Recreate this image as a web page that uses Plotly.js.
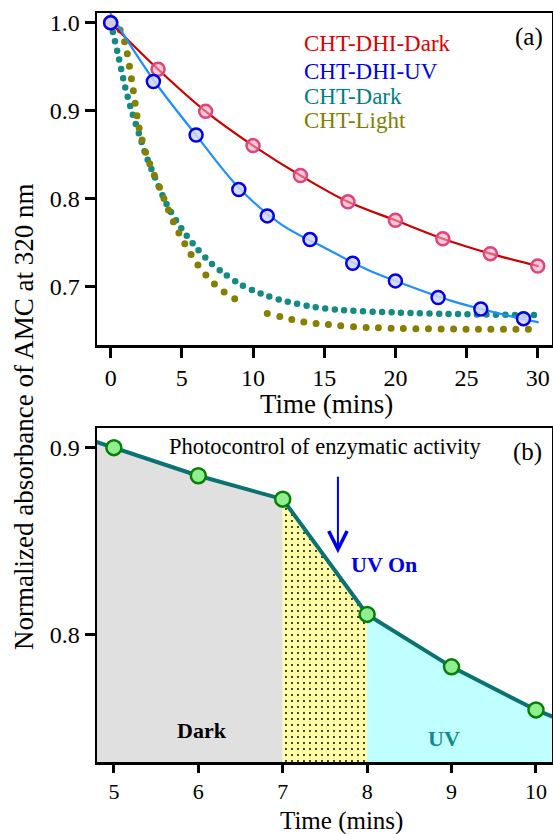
<!DOCTYPE html>
<html>
<head>
<meta charset="utf-8">
<script src="https://cdn.plot.ly/plotly-3.0.1.min.js"></script>
<style>
  html, body { margin: 0; padding: 0; background: #fff; }
  #chart { width: 553px; height: 834px; }
  .js-line { stroke-linecap: round; }
</style>
</head>
<body>
<div id="chart"></div>
<script>
// ---------- Panel (a) data ----------
const seriesNames = ['CHT-DHI-Dark', 'CHT-DHI-UV', 'CHT-Dark', 'CHT-Light'];

const dhiDarkX = [0, 3.33, 6.67, 10, 13.33, 16.67, 20, 23.33, 26.67, 30];
const dhiDarkY = [1.0, 0.947, 0.899, 0.860, 0.826, 0.796, 0.775, 0.754, 0.737, 0.723];

const dhiUvX = [0, 3, 6, 9, 11, 14, 17, 20, 23, 26, 29];
const dhiUvY = [1.0, 0.933, 0.872, 0.810, 0.780, 0.753, 0.726, 0.706, 0.687, 0.674, 0.663];

const dhiUvFitX = [0, 3, 6, 9, 12, 15, 18, 21, 24, 27, 30];
const dhiUvFitY = [1.01, 0.935, 0.872, 0.812, 0.770, 0.744, 0.719, 0.700, 0.683, 0.670, 0.659];

const chtDarkX = [0, 0.5, 1, 1.5, 2, 2.5, 3, 4, 5, 6, 7, 8, 9, 10, 11, 12, 14, 16, 20, 25, 30];
const chtDarkY = [1.0, 0.965, 0.928, 0.898, 0.873, 0.848, 0.828, 0.791, 0.765, 0.744, 0.727, 0.714, 0.703, 0.695, 0.689, 0.684, 0.677, 0.673, 0.670, 0.668, 0.667];

const chtLightX = [0, 0.5, 1, 1.5, 2, 2.5, 3, 3.5, 4, 4.5, 5, 5.5, 6, 7, 8, 9, 9.3, 10, 11, 12, 13, 14, 15, 16, 18, 20, 25, 30];
const chtLightY = [1.0, 0.996, 0.977, 0.932, 0.880, 0.850, 0.829, 0.810, 0.789, 0.770, 0.754, 0.740, 0.727, 0.707, 0.693, 0.683, 0.680, null, 0.669, 0.665, 0.661, 0.658, 0.657, 0.655, 0.653, 0.652, 0.651, 0.651];

const topXTicks = [0, 5, 10, 15, 20, 25, 30];
const topYTicks = [0.7, 0.8, 0.9, 1.0];
const topYTickText = ['0.7', '0.8', '0.9', '1.0'];

// ---------- Panel (b) data ----------
const photoX = [4, 5, 6, 7, 8, 9, 10, 11];
const photoY = [0.915, 0.900, 0.885, 0.8725, 0.811, 0.783, 0.760, 0.742];
const darkEnd = 7;
const uvStart = 8;

const botXTicks = [5, 6, 7, 8, 9, 10];
const botYTicks = [0.8, 0.9];
const botYTickText = ['0.8', '0.9'];

// ---------- helpers ----------
function segment(lo, hi) {
  const xs = [], ys = [];
  photoX.forEach((x, i) => { if (x >= lo && x <= hi) { xs.push(x); ys.push(photoY[i]); } });
  return { x: xs, y: ys };
}
const segDark = segment(-Infinity, darkEnd);
const segMid = segment(darkEnd, uvStart);
const segUv = segment(uvStart, Infinity);

const colors = { red: '#e00000', blue: '#0000e6', teal: '#008080', olive: '#808000' };

const traces = [
  // panel a
  { x: chtDarkX, y: chtDarkY, xaxis: 'x', yaxis: 'y', mode: 'lines', line: { color: '#138a82', width: 6.5, dash: '0px,9.5px', shape: 'spline', smoothing: 0.8 }, hoverinfo: 'skip' },
  { x: chtLightX, y: chtLightY, xaxis: 'x', yaxis: 'y', mode: 'lines', connectgaps: false, line: { color: '#858000', width: 7, dash: '0px,12.5px', shape: 'spline', smoothing: 0.8 }, hoverinfo: 'skip' },
  { x: dhiDarkX, y: dhiDarkY, xaxis: 'x', yaxis: 'y', mode: 'lines+markers', line: { color: '#cc0000', width: 2.2, shape: 'spline' },
    marker: { symbol: 'circle', size: 13, color: 'rgba(240,165,190,0.6)', line: { color: '#e0447c', width: 2.5 } } },
  { x: dhiUvFitX, y: dhiUvFitY, xaxis: 'x', yaxis: 'y', mode: 'lines', line: { color: '#1e8fff', width: 2.2, shape: 'spline' } },
  { x: dhiUvX, y: dhiUvY, xaxis: 'x', yaxis: 'y', mode: 'markers',
    marker: { symbol: 'circle', size: 13, color: 'rgba(210,214,245,0.85)', line: { color: '#0000e6', width: 2.5 } } },
  // panel b fills
  { x: segDark.x, y: segDark.y, xaxis: 'x2', yaxis: 'y2', mode: 'lines', fill: 'tozeroy', fillcolor: '#e0e0e0', line: { width: 0, color: 'rgba(0,0,0,0)' }, hoverinfo: 'skip' },
  { x: segMid.x, y: segMid.y, xaxis: 'x2', yaxis: 'y2', mode: 'lines', fill: 'tozeroy', fillcolor: '#ffffa8',
    fillpattern: { shape: '.', bgcolor: '#ffffa8', fgcolor: '#000000', size: 6, solidity: 0.08 },
    line: { width: 0, color: 'rgba(0,0,0,0)' }, hoverinfo: 'skip' },
  { x: segUv.x, y: segUv.y, xaxis: 'x2', yaxis: 'y2', mode: 'lines', fill: 'tozeroy', fillcolor: '#c0ffff', line: { width: 0, color: 'rgba(0,0,0,0)' }, hoverinfo: 'skip' },
  // panel b line + markers
  { x: photoX, y: photoY, xaxis: 'x2', yaxis: 'y2', mode: 'lines+markers', line: { color: '#0a7272', width: 4 },
    marker: { symbol: 'circle', size: 15, color: '#90ee90', line: { color: '#058005', width: 2.5 } } }
];

const axisCommon = {
  showline: true, linewidth: 2.5, linecolor: '#000', mirror: true,
  ticks: 'outside', ticklen: 10, tickwidth: 3, tickcolor: '#000',
  showgrid: false, zeroline: false,
  tickfont: { size: 24, color: '#000' }
};

const font = "'Liberation Serif', 'Times New Roman', serif";
const W = 553, H = 834, ML = 97, MR = 1, MT = 13, MB = 72;
const pw = W - ML - MR, ph = H - MT - MB;
const px = v => (v - ML) / pw;
const py = v => (H - MB - v) / ph;

const annotations = [
  { text: 'Normalized absorbance of AMC at 320 nm', xref: 'paper', yref: 'paper', x: px(24), y: py(417), textangle: -90, showarrow: false, xanchor: 'center', yanchor: 'middle', font: { size: 27 } },
  { text: 'Time (mins)', xref: 'paper', yref: 'paper', x: px(326.7), y: py(404), showarrow: false, xanchor: 'center', yanchor: 'middle', font: { size: 27 } },
  { text: 'Time (mins)', xref: 'paper', yref: 'paper', x: px(341), y: py(820.5), showarrow: false, xanchor: 'center', yanchor: 'middle', font: { size: 25 } },
  { text: seriesNames[0], xref: 'paper', yref: 'paper', x: px(302), y: py(43), showarrow: false, xanchor: 'left', yanchor: 'middle', font: { size: 23, color: colors.red } },
  { text: seriesNames[1], xref: 'paper', yref: 'paper', x: px(302), y: py(71), showarrow: false, xanchor: 'left', yanchor: 'middle', font: { size: 23, color: colors.blue } },
  { text: seriesNames[2], xref: 'paper', yref: 'paper', x: px(302), y: py(96), showarrow: false, xanchor: 'left', yanchor: 'middle', font: { size: 23, color: colors.teal } },
  { text: seriesNames[3], xref: 'paper', yref: 'paper', x: px(302), y: py(120), showarrow: false, xanchor: 'left', yanchor: 'middle', font: { size: 23, color: colors.olive } },
  { text: '(a)', xref: 'paper', yref: 'paper', x: px(529), y: py(37), showarrow: false, xanchor: 'center', yanchor: 'middle', font: { size: 25 } },
  { text: '(b)', xref: 'paper', yref: 'paper', x: px(527.5), y: py(452), showarrow: false, xanchor: 'center', yanchor: 'middle', font: { size: 25 } },
  { text: 'Photocontrol of enzymatic activity', xref: 'paper', yref: 'paper', x: px(325.3), y: py(446), showarrow: false, xanchor: 'center', yanchor: 'middle', font: { size: 22.5 } },
  { text: '<b>UV On</b>', xref: 'paper', yref: 'paper', x: px(384), y: py(564), showarrow: false, xanchor: 'center', yanchor: 'middle', font: { size: 22, color: colors.blue } },
  { text: '<b>Dark</b>', xref: 'paper', yref: 'paper', x: px(201.7), y: py(730), showarrow: false, xanchor: 'center', yanchor: 'middle', font: { size: 22, color: '#000' } },
  { text: '<b>UV</b>', xref: 'paper', yref: 'paper', x: px(444), y: py(738), showarrow: false, xanchor: 'center', yanchor: 'middle', font: { size: 22, color: '#138a8a' } },
  { text: '', xref: 'x2', yref: 'y2', x: 7.654, y: 0.8436, ax: 0, ay: -78, axref: 'pixel', ayref: 'pixel',
    showarrow: true, arrowhead: 5, arrowsize: 1.8, arrowwidth: 2, arrowcolor: colors.blue }
];

const layout = {
  width: W, height: H,
  margin: { l: ML, r: MR, t: MT, b: MB },
  paper_bgcolor: '#fff', plot_bgcolor: '#fff',
  showlegend: false,
  font: { family: font, color: '#000' },
  xaxis: Object.assign({}, axisCommon, { domain: [0, 1], anchor: 'y', range: [-0.96, 31.0], tickvals: topXTicks }),
  yaxis: Object.assign({}, axisCommon, { domain: [py(345), 1], anchor: 'x', range: [0.633, 1.011], tickvals: topYTicks, ticktext: topYTickText }),
  xaxis2: Object.assign({}, axisCommon, { domain: [0, 1], anchor: 'y2', range: [4.8, 10.19], tickvals: botXTicks, ticklen: 8, tickfont: { size: 22, color: '#000' } }),
  yaxis2: Object.assign({}, axisCommon, { domain: [0, py(428)], anchor: 'x2', range: [0.7322, 0.9105], tickvals: botYTicks, ticktext: botYTickText }),
  annotations: annotations
};

Plotly.newPlot('chart', traces, layout, { staticPlot: true, displayModeBar: false });
</script>
</body>
</html>
